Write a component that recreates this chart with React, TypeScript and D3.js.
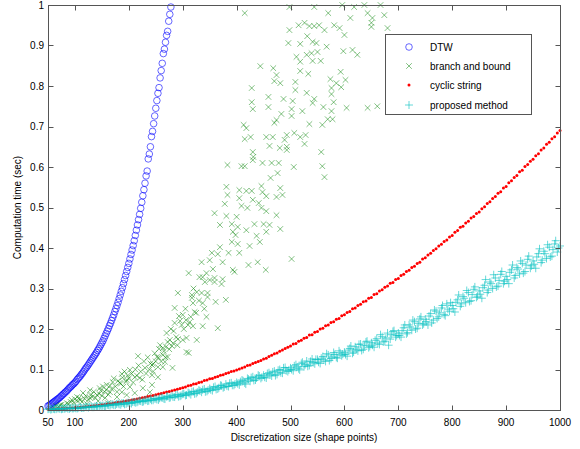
import React from "react";
import * as d3 from "d3";

// DTW: sizes 50..278 step 2
const dtwStart = 50;
const dtwStep = 2;
const dtwTime = [
  0.010, 0.011, 0.013, 0.015, 0.017, 0.019, 0.021, 0.023, 0.025, 0.027,
  0.029, 0.031, 0.034, 0.036, 0.039, 0.041, 0.044, 0.046, 0.049, 0.052,
  0.055, 0.057, 0.060, 0.063, 0.065, 0.068, 0.071, 0.075, 0.078, 0.081,
  0.084, 0.088, 0.091, 0.095, 0.099, 0.103, 0.106, 0.110, 0.114, 0.118,
  0.122, 0.126, 0.130, 0.134, 0.138, 0.142, 0.147, 0.151, 0.156, 0.161,
  0.166, 0.171, 0.177, 0.183, 0.189, 0.195, 0.201, 0.208, 0.214, 0.221,
  0.228, 0.235, 0.243, 0.250, 0.258, 0.266, 0.275, 0.284, 0.293, 0.302,
  0.312, 0.322, 0.332, 0.342, 0.352, 0.362, 0.373, 0.384, 0.395, 0.406,
  0.418, 0.431, 0.444, 0.457, 0.470, 0.483, 0.498, 0.513, 0.529, 0.544,
  0.560, 0.578, 0.590, 0.620, 0.632, 0.650, 0.675, 0.688, 0.707, 0.726,
  0.745, 0.764, 0.782, 0.796, 0.820, 0.838, 0.856, 0.880, 0.891, 0.908,
  0.925, 0.935, 0.960, 0.977, 0.995,
];

// cyclic string: sizes 50..1000 step 5
const cycStart = 50;
const cycStep = 5;
const cycTime = [
  0.002, 0.0023, 0.0026, 0.003, 0.0033, 0.0037, 0.004, 0.0044, 0.0048, 0.0051,
  0.0055, 0.0061, 0.0068, 0.0075, 0.0082, 0.0089, 0.0097, 0.0105, 0.0112, 0.012,
  0.0128, 0.0138, 0.0147, 0.0157, 0.0168, 0.0178, 0.0189, 0.02, 0.0212, 0.0223,
  0.0235, 0.0248, 0.0261, 0.0274, 0.0288, 0.0302, 0.0316, 0.0331, 0.0346, 0.0361,
  0.0376, 0.0392, 0.0408, 0.0425, 0.0442, 0.0459, 0.0476, 0.0494, 0.0512, 0.0531,
  0.055, 0.057, 0.060, 0.061, 0.064, 0.065, 0.068, 0.069, 0.073, 0.074,
  0.077, 0.078, 0.081, 0.083, 0.086, 0.087, 0.090, 0.092, 0.095, 0.096,
  0.099, 0.101, 0.104, 0.106, 0.110, 0.111, 0.115, 0.117, 0.120, 0.122,
  0.126, 0.128, 0.132, 0.135, 0.139, 0.141, 0.145, 0.148, 0.152, 0.155,
  0.158, 0.163, 0.164, 0.170, 0.172, 0.177, 0.179, 0.185, 0.186, 0.192,
  0.194, 0.200, 0.202, 0.208, 0.210, 0.216, 0.218, 0.224, 0.226, 0.233,
  0.235, 0.241, 0.243, 0.250, 0.252, 0.258, 0.261, 0.267, 0.269, 0.276,
  0.278, 0.285, 0.287, 0.294, 0.297, 0.303, 0.306, 0.313, 0.315, 0.322,
  0.325, 0.332, 0.335, 0.342, 0.345, 0.352, 0.355, 0.362, 0.365, 0.373,
  0.376, 0.383, 0.387, 0.394, 0.398, 0.405, 0.409, 0.416, 0.420, 0.427,
  0.431, 0.439, 0.443, 0.451, 0.454, 0.462, 0.466, 0.474, 0.478, 0.485,
  0.489, 0.497, 0.502, 0.510, 0.514, 0.522, 0.527, 0.535, 0.539, 0.548,
  0.552, 0.561, 0.566, 0.574, 0.579, 0.588, 0.592, 0.601, 0.606, 0.614,
  0.619, 0.628, 0.633, 0.642, 0.647, 0.656, 0.661, 0.670, 0.675, 0.684,
  0.690,
];

// proposed method: sizes 50..1000 step 5
const propStart = 50;
const propStep = 5;
const propTime = [
  0.002, 0.001, 0.003, 0.002, 0.004, 0.002, 0.003, 0.005, 0.003, 0.004,
  0.005, 0.004, 0.007, 0.005, 0.008, 0.006, 0.009, 0.007, 0.010, 0.008,
  0.010, 0.009, 0.013, 0.011, 0.014, 0.012, 0.016, 0.013, 0.017, 0.015,
  0.018, 0.016, 0.020, 0.019, 0.023, 0.020, 0.024, 0.022, 0.027, 0.024,
  0.028, 0.025, 0.031, 0.028, 0.033, 0.030, 0.036, 0.032, 0.038, 0.034,
  0.039, 0.036, 0.043, 0.038, 0.046, 0.041, 0.049, 0.044, 0.052, 0.046,
  0.053, 0.048, 0.058, 0.052, 0.061, 0.055, 0.064, 0.058, 0.067, 0.061,
  0.068, 0.062, 0.074, 0.067, 0.078, 0.071, 0.082, 0.074, 0.086, 0.078,
  0.086, 0.079, 0.092, 0.084, 0.096, 0.088, 0.100, 0.091, 0.105, 0.095,
  0.104, 0.097, 0.112, 0.102, 0.115, 0.107, 0.121, 0.110, 0.126, 0.114,
  0.125, 0.115, 0.132, 0.120, 0.136, 0.127, 0.142, 0.130, 0.146, 0.134,
  0.143, 0.133, 0.152, 0.140, 0.156, 0.146, 0.163, 0.150, 0.168, 0.154,
  0.166, 0.155, 0.176, 0.162, 0.181, 0.170, 0.190, 0.175, 0.194, 0.180,
  0.190, 0.180, 0.203, 0.188, 0.210, 0.197, 0.218, 0.202, 0.225, 0.210,
  0.224, 0.210, 0.238, 0.222, 0.244, 0.230, 0.252, 0.236, 0.262, 0.244,
  0.258, 0.242, 0.272, 0.256, 0.280, 0.265, 0.290, 0.270, 0.298, 0.278,
  0.294, 0.276, 0.308, 0.290, 0.316, 0.300, 0.326, 0.306, 0.335, 0.312,
  0.330, 0.312, 0.346, 0.326, 0.352, 0.336, 0.362, 0.342, 0.372, 0.350,
  0.368, 0.350, 0.386, 0.364, 0.392, 0.374, 0.402, 0.380, 0.410, 0.390,
  0.405,
];

// proposed method, second run: sizes 52..997 step 5
const prop2Start = 52;
const prop2Step = 5;
const prop2Time = [
  0.003, 0.002, 0.002, 0.004, 0.003, 0.003, 0.004, 0.003, 0.005, 0.004,
  0.004, 0.006, 0.005, 0.006, 0.007, 0.008, 0.007, 0.009, 0.008, 0.011,
  0.011, 0.010, 0.012, 0.014, 0.012, 0.015, 0.014, 0.017, 0.014, 0.018,
  0.017, 0.020, 0.018, 0.021, 0.022, 0.021, 0.025, 0.023, 0.024, 0.028,
  0.026, 0.029, 0.030, 0.027, 0.034, 0.031, 0.032, 0.037, 0.033, 0.036,
  0.040, 0.037, 0.041, 0.045, 0.040, 0.044, 0.047, 0.050, 0.045, 0.049,
  0.050, 0.056, 0.051, 0.055, 0.060, 0.057, 0.059, 0.066, 0.061, 0.064,
  0.065, 0.070, 0.072, 0.064, 0.076, 0.080, 0.073, 0.079, 0.084, 0.081,
  0.081, 0.090, 0.087, 0.094, 0.085, 0.098, 0.092, 0.104, 0.097, 0.099,
  0.100, 0.109, 0.106, 0.099, 0.118, 0.112, 0.108, 0.120, 0.117, 0.125,
  0.118, 0.128, 0.124, 0.139, 0.122, 0.131, 0.137, 0.128, 0.141, 0.138,
  0.137, 0.148, 0.158, 0.143, 0.150, 0.162, 0.147, 0.159, 0.170, 0.157,
  0.160, 0.172, 0.165, 0.186, 0.168, 0.178, 0.160, 0.186, 0.196, 0.184,
  0.184, 0.196, 0.210, 0.191, 0.205, 0.222, 0.200, 0.214, 0.230, 0.213,
  0.218, 0.232, 0.215, 0.247, 0.226, 0.240, 0.258, 0.233, 0.249, 0.265,
  0.250, 0.266, 0.284, 0.262, 0.276, 0.295, 0.268, 0.285, 0.304, 0.281,
  0.286, 0.302, 0.322, 0.296, 0.312, 0.334, 0.304, 0.320, 0.342, 0.318,
  0.322, 0.340, 0.358, 0.332, 0.348, 0.368, 0.338, 0.358, 0.380, 0.356,
  0.360, 0.378, 0.398, 0.370, 0.386, 0.408, 0.378, 0.396, 0.418, 0.400,
];

// branch and bound: scattered [size, time]
const branchPts: [number, number][] = [
  [415, 0.98], [498, 0.995], [544, 0.995], [570, 0.98], [596, 1.0], [618, 0.995], [637, 1.0],
  [498, 0.938], [515, 0.95], [526, 0.956], [535, 0.948], [544, 0.948], [553, 0.95], [563, 0.938],
  [581, 0.95], [591, 0.943], [600, 0.926], [611, 0.968], [643, 0.98], [650, 0.956], [652, 0.968],
  [496, 0.906], [518, 0.904], [531, 0.923], [541, 0.909], [548, 0.906], [567, 0.897], [598, 0.886],
  [615, 0.889], [624, 0.877], [511, 0.872], [518, 0.86], [530, 0.877], [539, 0.881], [550, 0.884],
  [541, 0.862], [556, 0.862], [444, 0.849], [468, 0.844], [518, 0.837], [533, 0.83], [474, 0.827],
  [593, 0.835], [470, 0.812], [481, 0.807], [509, 0.81], [574, 0.817], [585, 0.807], [602, 0.815],
  [428, 0.795], [509, 0.79], [530, 0.783], [576, 0.795], [594, 0.797], [576, 0.78], [459, 0.773],
  [487, 0.768], [504, 0.763], [544, 0.768], [541, 0.758], [580, 0.76], [428, 0.76], [430, 0.743],
  [459, 0.748], [502, 0.743], [522, 0.738], [561, 0.748], [576, 0.738], [604, 0.746], [643, 0.746],
  [661, 0.75], [483, 0.731], [502, 0.726], [470, 0.709], [474, 0.716], [569, 0.718], [578, 0.718],
  [413, 0.704], [418, 0.696], [535, 0.706], [559, 0.704], [415, 0.669], [426, 0.674], [455, 0.674],
  [467, 0.674], [493, 0.679], [507, 0.684], [518, 0.674], [528, 0.679], [489, 0.667], [461, 0.652],
  [480, 0.647], [526, 0.657], [493, 0.65], [667, 1.0], [674, 0.975], [650, 0.946], [680, 0.943],
  [493, 0.642], [557, 0.637], [430, 0.637], [431, 0.625], [430, 0.617], [383, 0.605], [409, 0.602],
  [415, 0.602], [448, 0.61], [465, 0.61], [478, 0.61], [506, 0.6], [559, 0.602], [476, 0.585],
  [463, 0.573], [563, 0.575], [381, 0.551], [446, 0.553], [405, 0.543], [418, 0.541], [428, 0.541],
  [383, 0.531], [448, 0.538], [455, 0.528], [481, 0.548], [474, 0.526], [485, 0.531], [405, 0.523],
  [430, 0.519], [441, 0.511], [378, 0.509], [409, 0.504], [420, 0.499], [446, 0.499], [455, 0.491],
  [359, 0.486], [381, 0.479], [400, 0.477], [474, 0.481], [369, 0.457], [391, 0.459], [402, 0.452],
  [393, 0.44], [433, 0.459], [450, 0.459], [461, 0.457], [455, 0.44], [481, 0.447], [398, 0.432],
  [418, 0.444], [437, 0.43], [443, 0.415], [391, 0.415], [402, 0.41], [369, 0.402], [424, 0.405],
  [354, 0.388], [365, 0.385], [385, 0.388], [405, 0.388], [502, 0.373], [335, 0.365], [350, 0.37],
  [374, 0.365], [422, 0.358], [439, 0.365], [393, 0.346], [454, 0.346], [356, 0.348], [344, 0.338],
  [337, 0.328], [359, 0.326], [374, 0.323], [311, 0.338], [331, 0.328], [396, 0.341],
  [341, 0.316], [350, 0.321], [359, 0.316], [372, 0.311], [291, 0.289], [317, 0.284], [326, 0.291],
  [335, 0.289], [346, 0.289], [317, 0.277], [319, 0.264], [337, 0.264], [346, 0.279], [361, 0.267],
  [380, 0.272], [285, 0.252], [322, 0.242], [344, 0.23], [300, 0.235], [293, 0.232], [306, 0.222],
  [313, 0.217], [298, 0.21], [319, 0.207], [337, 0.207], [365, 0.202], [283, 0.195], [291, 0.175],
  [300, 0.173], [307, 0.178], [326, 0.173], [276, 0.173], [280, 0.158], [269, 0.156], [307, 0.143],
  [311, 0.141], [256, 0.151], [263, 0.136], [252, 0.131], [272, 0.131], [267, 0.119], [245, 0.114],
  [254, 0.106], [263, 0.106], [281, 0.104], [243, 0.086], [254, 0.081], [243, 0.062], [239, 0.044],
  [217, 0.133], [272, 0.168], [263, 0.153], [243, 0.111], [230, 0.104], [202, 0.099], [187, 0.089],
  [211, 0.081], [220, 0.079], [196, 0.074], [170, 0.069], [183, 0.067], [159, 0.062], [202, 0.057],
  [146, 0.054], [226, 0.054], [128, 0.049], [165, 0.044], [187, 0.044], [115, 0.042], [141, 0.037],
  [211, 0.042], [104, 0.032], [128, 0.03], [156, 0.03], [178, 0.032], [196, 0.037], [94, 0.025],
  [113, 0.02], [143, 0.022], [85, 0.017], [72, 0.012], [122, 0.015], [161, 0.017],
  [60, 0.006], [65, 0.01], [70, 0.008], [75, 0.013], [80, 0.011], [88, 0.015], [92, 0.02], [98, 0.018],
  [100, 0.027], [105, 0.022], [108, 0.03], [110, 0.025], [118, 0.028], [120, 0.035], [125, 0.025],
  [130, 0.038], [132, 0.032], [135, 0.045], [138, 0.03], [145, 0.04], [148, 0.048], [150, 0.035],
  [152, 0.058], [155, 0.045], [158, 0.05], [162, 0.038], [165, 0.06], [168, 0.052], [172, 0.078],
  [175, 0.058], [178, 0.045], [180, 0.072], [185, 0.065], [188, 0.08], [190, 0.058], [192, 0.095],
  [195, 0.07], [198, 0.085], [200, 0.078], [205, 0.09], [208, 0.068], [212, 0.1], [215, 0.085],
  [218, 0.11], [222, 0.095], [225, 0.075], [228, 0.12], [232, 0.09], [235, 0.13], [238, 0.1],
  [240, 0.115], [245, 0.095], [248, 0.14], [250, 0.12], [255, 0.13], [258, 0.16], [260, 0.12],
  [265, 0.145], [268, 0.13], [270, 0.19], [275, 0.15], [278, 0.2], [282, 0.165], [285, 0.215],
  [288, 0.18], [290, 0.16], [295, 0.22], [302, 0.2], [305, 0.25], [310, 0.21], [315, 0.23],
  [320, 0.3], [325, 0.24], [330, 0.27], [340, 0.25],
];

const xTicks = [50, 100, 200, 300, 400, 500, 600, 700, 800, 900, 1000];
const yTicks = [0, 0.1, 0.2, 0.3, 0.4, 0.5, 0.6, 0.7, 0.8, 0.9, 1];
const legendLabels = ["DTW", "branch and bound", "cyclic string", "proposed method"];

const W = 580;
const H = 449;
const left = 48, right = 560, top = 5, bottom = 410;
const font = "'Liberation Sans', Arial, Helvetica, sans-serif";

const blue = "#0000ff";
const green = "#008000";
const red = "#ff0000";
const cyan = "#00bfbf";

const Circle = ({ x, y }: { x: number; y: number }) => (
  <circle cx={x} cy={y} r={3.3} fill="none" stroke={blue} strokeWidth={0.8} strokeOpacity={0.75} />
);
const Cross = ({ x, y }: { x: number; y: number }) => (
  <path d={`M${x - 2.8},${y - 2.8}L${x + 2.8},${y + 2.8}M${x - 2.8},${y + 2.8}L${x + 2.8},${y - 2.8}`}
    stroke={green} strokeWidth={0.9} strokeOpacity={0.55} fill="none" />
);
const Dot = ({ x, y }: { x: number; y: number }) => (
  <circle cx={x} cy={y} r={1.5} fill={red} />
);
const Plus = ({ x, y }: { x: number; y: number }) => (
  <path d={`M${x - 4},${y}L${x + 4},${y}M${x},${y - 4}L${x},${y + 4}`}
    stroke={cyan} strokeWidth={1} strokeOpacity={0.6} fill="none" />
);

export default function App() {
  const xs = d3.scaleLinear().domain([50, 1000]).range([left, right]);
  const ys = d3.scaleLinear().domain([0, 1]).range([bottom, top]);

  const dtw = dtwTime.map((v, i) => [dtwStart + i * dtwStep, v]);
  const cyc = cycTime.map((v, i) => [cycStart + i * cycStep, v]);
  const prop = propTime.map((v, i) => [propStart + i * propStep, v])
    .concat(prop2Time.map((v, i) => [prop2Start + i * prop2Step, v]));

  const lx = 409;
  const legendY = [47, 66, 85, 105];
  const markers = [Circle, Cross, Dot, Plus];

  return (
    <div style={{ position: "absolute", left: 0, top: 0 }}>
      <svg width={W} height={H} style={{ display: "block", background: "#fff" }} fontFamily={font}>
        <rect x={0} y={0} width={W} height={H} fill="#fff" />

        {dtw.map(([x, v], i) => <Circle key={"d" + i} x={xs(x)} y={ys(v)} />)}
        {branchPts.map(([x, v], i) => <Cross key={"b" + i} x={xs(x)} y={ys(v)} />)}
        {cyc.map(([x, v], i) => <Dot key={"c" + i} x={xs(x)} y={ys(v)} />)}
        {prop.map(([x, v], i) => <Plus key={"p" + i} x={xs(x)} y={ys(v)} />)}

        {/* axes box */}
        <rect x={left + 0.5} y={top + 0.5} width={right - left} height={bottom - top} fill="none" stroke="#555" strokeWidth={1} />
        {xTicks.map((t) => {
          const px = Math.round(xs(t)) + 0.5;
          return (
            <g key={"xt" + t}>
              <line x1={px} x2={px} y1={bottom + 0.5} y2={bottom - 4.5} stroke="#555" />
              <line x1={px} x2={px} y1={top + 0.5} y2={top + 5.5} stroke="#555" />
              <text x={xs(t)} y={bottom + 16} fontSize={10} textAnchor="middle" fill="#000">{t}</text>
            </g>
          );
        })}
        {yTicks.map((t) => {
          const py = Math.round(ys(t)) + 0.5;
          return (
            <g key={"yt" + t}>
              <line x1={left + 0.5} x2={left + 5.5} y1={py} y2={py} stroke="#555" />
              <line x1={right + 0.5} x2={right - 4.5} y1={py} y2={py} stroke="#555" />
              <text x={left - 4} y={ys(t) + 3.5} fontSize={10} textAnchor="end" fill="#000">{String(t)}</text>
            </g>
          );
        })}

        <text x={(left + right) / 2} y={441} fontSize={10} textAnchor="middle" fill="#000">
          Discretization size (shape points)
        </text>
        <text transform={`translate(21,${(top + bottom) / 2}) rotate(-90)`} fontSize={10} textAnchor="middle" fill="#000">
          Computation time (sec)
        </text>

        {/* legend */}
        <rect x={385.5} y={34.5} width={146} height={80} fill="#fff" stroke="#555" />
        {legendLabels.map((lab, i) => {
          const M = markers[i];
          return (
            <g key={lab}>
              <M x={lx} y={legendY[i]} />
              <text x={430} y={legendY[i] + 3.5} fontSize={10} fill="#000">{lab}</text>
            </g>
          );
        })}
      </svg>
    </div>
  );
}
